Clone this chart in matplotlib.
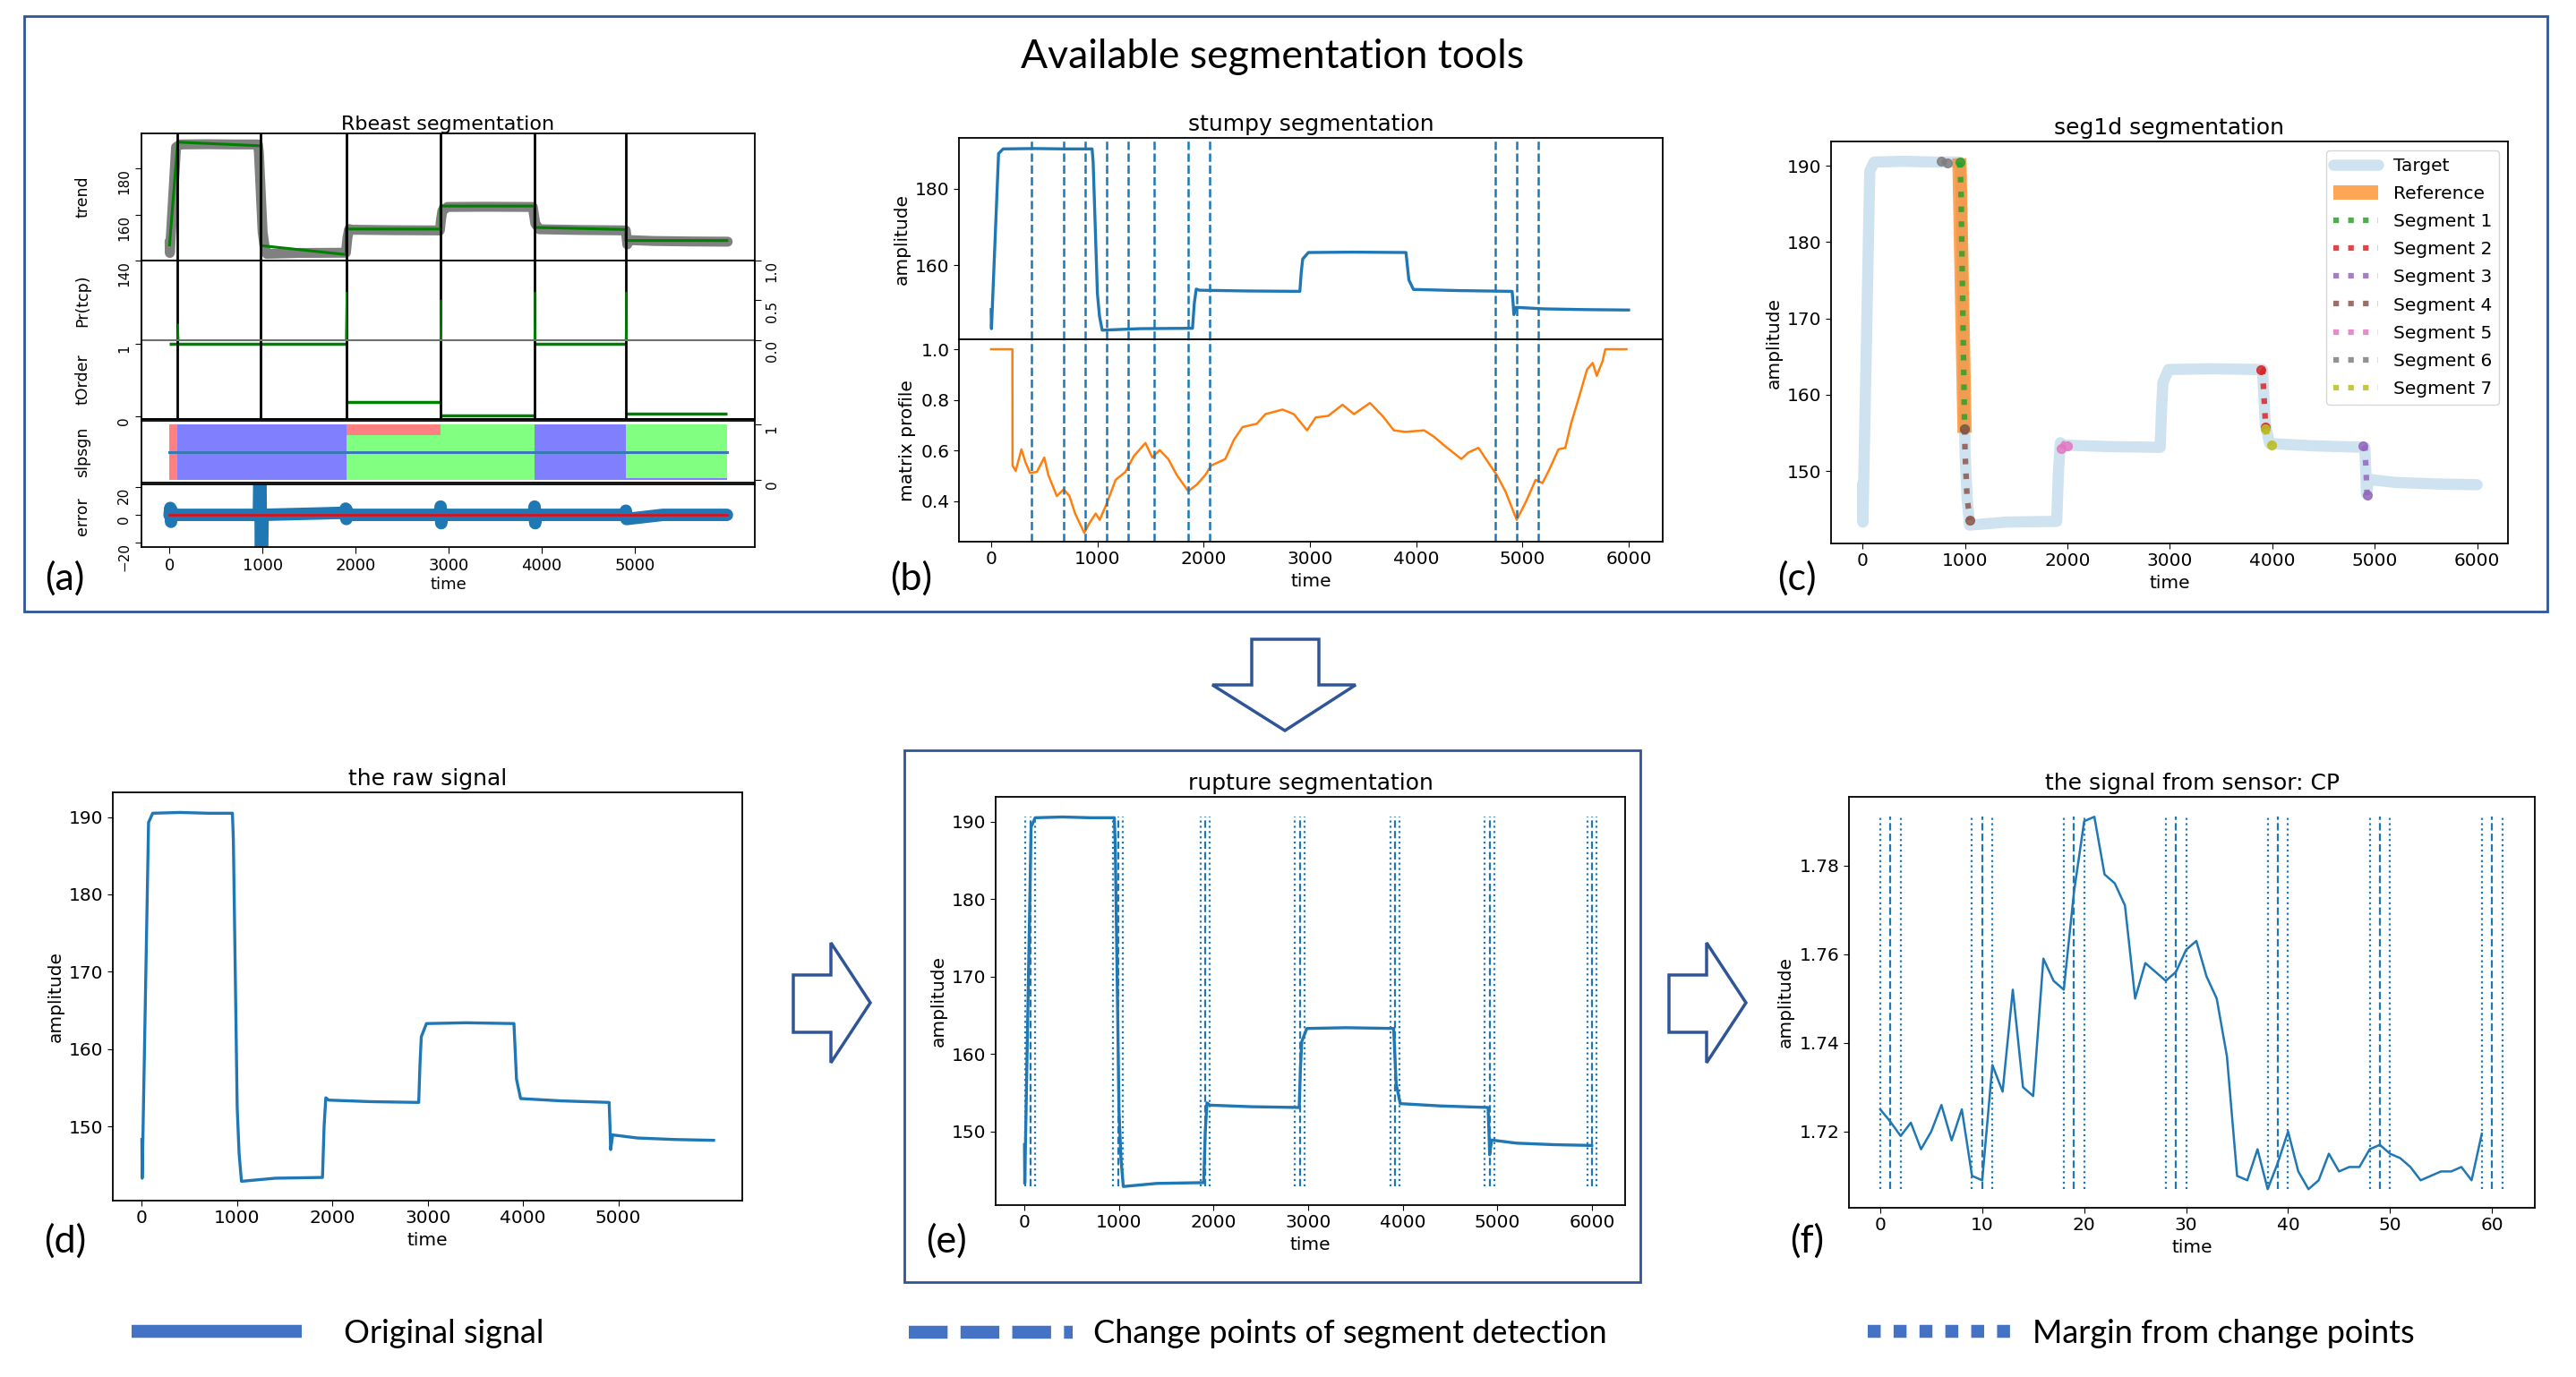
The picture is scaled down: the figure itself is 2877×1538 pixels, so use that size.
import numpy as np
import matplotlib
matplotlib.use("Agg")
import matplotlib.pyplot as plt
from matplotlib.patches import Polygon, Rectangle

# ------------------------------------------------------------------ data
# raw signal (knots)
sig_t = [0, 3, 70, 113, 400, 700, 950, 960, 1000, 1020, 1045, 1400, 1895, 1912, 1930, 1960,
         2400, 2905, 2918, 2932, 2986, 3400, 3904, 3931, 3974, 4400, 4903, 4912, 4919, 4940,
         5200, 5600, 5999]
sig_v = [148.3, 143.3, 189.3, 190.5, 190.6, 190.5, 190.5, 187.0, 152.5, 146.5, 142.9, 143.3,
         143.4, 150.0, 153.7, 153.4, 153.2, 153.1, 158.0, 161.6, 163.3, 163.4, 163.3, 156.1,
         153.6, 153.3, 153.1, 150.0, 147.0, 148.9, 148.5, 148.3, 148.2]

# (a) Rbeast
cp_a = [87, 982, 1897, 2913, 3923, 4904]
trend_t = [0, 87, 982, 982, 1897, 1897, 2913, 2913, 3923, 3923, 4904, 4904, 5990]
trend_v = [146.8, 191.5, 189.9, 146.5, 142.6, 153.7, 153.7, 163.7, 163.7, 154.4, 153.5, 148.7, 148.7]
pr_t = [0, 84, 91, 98, 1894, 1901, 1908, 2910, 2917, 2924, 3920, 3927, 3934, 4901, 4908, 4915, 5990]
pr_v = [0, 0, 0.2, 0, 0, 0.6, 0, 0, 0.5, 0, 0, 0.6, 0, 0, 0.6, 0, 0]
tord_start = [0, 1897, 2913, 3923, 4904]
tord_end = [1897, 2913, 3923, 4904, 5990]
tord_val = [1.0, 0.2, 0.01, 1.0, 0.04]
sl_edges = [0, 87, 1897, 2913, 3923, 4904, 5990]
sl_neg = [0, 1, 0, 0, 1, 0.03]
sl_zero = [0, 0, 0.8, 1, 0, 0.97]
sl_pos = [1, 0, 0.2, 0, 0, 0]
sl_line_t = [0, 5990]
sl_line_v = [0.5, 0.5]
err_t = [0, 8, 16, 24, 40, 960, 974, 984, 1000, 1300, 1600, 1880, 1893, 1900, 1907,
         1915, 2905, 2913, 2920, 2928, 3915, 3923, 3930, 3938, 4897, 4904, 4911, 5300, 5990]
err_v = [0, 5, -5, 3, 0, 0, 80, -80, 0, 0.5, 1.0, 1.5, 4.5, -3, 3,
         0, 0, 6, -6, 0, 0, 6, -6, 0, 0, 3, -3, 0, 0]
err_zero_t = [0, 5990]
err_zero_v = [0, 0]

# (b) stumpy
cp_b = [382, 683, 887, 1086, 1290, 1532, 1855, 2059, 4747, 4946, 5151]
mp_t = [0, 200, 201, 231, 285, 323, 366, 430, 500, 538, 618, 683, 737, 790, 876, 925, 984, 1022,
        1086, 1172, 1263, 1344, 1452, 1516, 1586, 1667, 1747, 1855, 1935, 2016, 2070, 2204, 2285,
        2366, 2500, 2581, 2742, 2849, 2973, 3054, 3172, 3306, 3414, 3565, 3683, 3790, 3898, 4075,
        4167, 4274, 4425, 4489, 4586, 4677, 4758, 4839, 4946, 5038, 5124, 5188, 5242, 5339, 5403,
        5457, 5538, 5608, 5661, 5699, 5753, 5780, 5979]
mp_v = [1.0, 1.0, 0.541, 0.52, 0.605, 0.554, 0.512, 0.516, 0.573, 0.504, 0.421, 0.447, 0.421,
        0.352, 0.276, 0.314, 0.352, 0.327, 0.390, 0.485, 0.516, 0.579, 0.630, 0.573, 0.602, 0.567,
        0.504, 0.440, 0.466, 0.504, 0.541, 0.567, 0.643, 0.693, 0.706, 0.744, 0.762, 0.744, 0.680,
        0.731, 0.737, 0.781, 0.744, 0.788, 0.737, 0.680, 0.674, 0.680, 0.655, 0.617, 0.567, 0.592,
        0.611, 0.554, 0.504, 0.440, 0.327, 0.403, 0.485, 0.472, 0.516, 0.605, 0.611, 0.706, 0.819,
        0.920, 0.946, 0.895, 0.952, 1.0, 1.0]

# (c) seg1d
ref_t = [945, 996]
ref_v = [191.0, 155.0]
seg_names = ["Segment 1", "Segment 2", "Segment 3", "Segment 4", "Segment 5", "Segment 6", "Segment 7"]
seg_colors = ["tab:green", "tab:red", "tab:purple", "tab:brown", "tab:pink", "tab:gray", "tab:olive"]
seg1_t, seg1_v = [950, 960, 996], [190.5, 187.0, 155.5]
seg2_t, seg2_v = [3890, 3904, 3935], [163.3, 163.2, 155.8]
seg3_t, seg3_v = [4887, 4905, 4925], [153.3, 153.0, 146.8]
seg4_t, seg4_v = [996, 1000, 1020, 1048], [155.5, 152.5, 146.5, 143.6]
seg5_t, seg5_v = [1940, 1965, 2000], [153.0, 153.6, 153.3]
seg6_t, seg6_v = [770, 830], [190.6, 190.4]
seg7_t, seg7_v = [3935, 3960, 3990], [155.5, 154.0, 153.4]

# (e) ruptures
cp_e = [60, 990, 1910, 2910, 3920, 4920, 6000]
margin_e = 50

# (f) sensor CP
cp_time = list(range(60))
cp_vals = [1.725, 1.7222, 1.719, 1.722, 1.716, 1.720, 1.726, 1.718, 1.725, 1.710,
           1.709, 1.735, 1.729, 1.752, 1.730, 1.728, 1.759, 1.754, 1.752, 1.774,
           1.790, 1.791, 1.778, 1.776, 1.771, 1.750, 1.758, 1.756, 1.754, 1.756,
           1.761, 1.763, 1.755, 1.750, 1.737, 1.710, 1.709, 1.716, 1.707, 1.713,
           1.720, 1.711, 1.707, 1.709, 1.715, 1.711, 1.712, 1.712, 1.716, 1.717,
           1.715, 1.714, 1.712, 1.709, 1.710, 1.711, 1.711, 1.712, 1.709, 1.7195]
cp_f = [1, 10, 19, 29, 39, 49, 60]
margin_f = 1

# texts
main_title = "Available segmentation tools"
legend_texts = ["Original signal", "Change points of segment detection", "Margin from change points"]

# ------------------------------------------------------------------ style
plt.rcParams["axes.linewidth"] = 1.3
plt.rcParams["font.family"] = ["DejaVu Sans"]
W, H = 2877, 1538
fig = plt.figure(figsize=(W / 100, H / 100), dpi=100)
FRAME = "#2F5597"
LEG = "#4472C4"
ANN = ["Lato", "DejaVu Sans"]
TS, LS, TT = 14.5, 14.5, 18
SIG_LW = 2.4


def add_ax(l, t, r, b, **kw):
    return fig.add_axes([l / W, 1 - b / H, (r - l) / W, (b - t) / H], **kw)


def rot_labels(ax, side):
    for tk in ax.yaxis.get_major_ticks():
        lab = tk.label1 if side == "left" else tk.label2
        lab.set_rotation(90)
        lab.set_rotation_mode("anchor")
        lab.set_ha("right")
        lab.set_va("bottom" if side == "left" else "top")


# ------------------------------------------------------------------ (a) Rbeast
xl_a = (-302, 6290)
ax_tr = add_ax(158, 149, 843, 291)
ax_tr.plot(sig_t, sig_v, color="#808080", lw=8, solid_capstyle="round", solid_joinstyle="round", zorder=1)
ax_tr.plot(trend_t, trend_v, color="green", lw=2.2, zorder=2)
for c in cp_a:
    ax_tr.axvline(c, color="black", lw=2, zorder=3)
ax_tr.set_xlim(*xl_a)
ax_tr.set_ylim(140, 195.3)
ax_tr.set_xticks([])
ax_tr.set_yticks([140, 160, 180])
ax_tr.tick_params(axis="y", labelsize=11, length=5)
rot_labels(ax_tr, "left")
ax_tr.set_title("Rbeast segmentation", fontsize=16, pad=3)

ax_to = add_ax(158, 291, 843, 468)
ax_to.hlines(tord_val, tord_start, tord_end, color="green", lw=2.5)
for c in cp_a:
    ax_to.axvline(c, color="black", lw=2)
ax_to.set_xlim(*xl_a)
ax_to.set_ylim(-0.037, 2.148)
ax_to.set_yticks([0, 1])
ax_to.set_xticks([])
ax_to.tick_params(axis="y", labelsize=11, length=5)
rot_labels(ax_to, "left")
ax_pr = ax_to.twinx()
ax_pr.plot(pr_t, pr_v, color="green", lw=1.2)
ax_pr.axhline(0, color="#707070", lw=1.5)
ax_pr.set_ylim(-0.989, 1.0)
ax_pr.set_yticks([0, 0.5, 1.0])
ax_pr.set_yticklabels(["0.0", "0.5", "1.0"])
ax_pr.tick_params(axis="y", labelsize=11, length=5)
rot_labels(ax_pr, "right")

ax_sl = add_ax(158, 470, 843, 539)
neg_s = np.append(sl_neg, sl_neg[-1])
zero_s = np.append(sl_zero, sl_zero[-1])
pos_s = np.append(sl_pos, sl_pos[-1])
ax_sl.fill_between(sl_edges, 0, neg_s, step="post", color="#8080FF", lw=0)
ax_sl.fill_between(sl_edges, neg_s, neg_s + zero_s, step="post", color="#80FF80", lw=0)
ax_sl.fill_between(sl_edges, neg_s + zero_s, neg_s + zero_s + pos_s, step="post", color="#FF8080", lw=0)
ax_sl.plot(sl_line_t, sl_line_v, color="#3a78b5", lw=2.2)
ax_sl.set_xlim(*xl_a)
ax_sl.set_ylim(-0.048, 1.065)
ax_sl.set_xticks([])
ax_sl.yaxis.tick_right()
ax_sl.set_yticks([0, 1])
ax_sl.tick_params(axis="y", labelsize=11, length=5)
rot_labels(ax_sl, "right")

ax_er = add_ax(158, 541, 843, 611)
ax_er.plot(err_t, err_v, color="#1f77b4", lw=10, solid_capstyle="round", solid_joinstyle="round")
ax_er.plot(err_zero_t, err_zero_v, color="red", lw=1.8)
ax_er.set_xlim(*xl_a)
ax_er.set_ylim(-23.2, 22)
ax_er.set_yticks([-20, 0, 20])
ax_er.set_xticks(range(0, 6000, 1000))
ax_er.tick_params(axis="y", labelsize=11, length=5)
ax_er.tick_params(axis="x", labelsize=13, length=5)
rot_labels(ax_er, "left")
ax_er.set_xlabel("time", fontsize=13, labelpad=2)

# ------------------------------------------------------------------ (b) stumpy
axb1 = add_ax(1071, 154, 1857, 379)
axb2 = add_ax(1071, 379, 1857, 605, sharex=axb1)
axb1.plot(sig_t, sig_v, color="tab:blue", lw=SIG_LW)
axb2.plot(mp_t, mp_v, color="tab:orange", lw=1.8)
for c in cp_b:
    axb1.axvline(c, color="tab:blue", ls="--", lw=1.8)
    axb2.axvline(c, color="tab:blue", ls="--", lw=1.8)
axb1.set_xlim(-303, 6320)
axb1.set_ylim(140.5, 193.4)
axb2.set_ylim(0.241, 1.039)
axb1.set_yticks([160, 180])
axb2.set_yticks([0.4, 0.6, 0.8, 1.0])
axb2.set_xticks(range(0, 7000, 1000))
axb1.tick_params(axis="x", bottom=False, labelbottom=False)
for a in (axb1, axb2):
    a.tick_params(labelsize=TS, length=4)
axb1.set_ylabel("amplitude", fontsize=LS)
axb2.set_ylabel("matrix profile", fontsize=LS)
axb2.set_xlabel("time", fontsize=LS)
axb1.set_title("stumpy segmentation", fontsize=TT)

# ------------------------------------------------------------------ (c) seg1d
axc = add_ax(2045, 158, 2801, 607)
axc.plot(sig_t, sig_v, color="#cfe2f0", lw=9, solid_capstyle="round", solid_joinstyle="round", label="Target")
axc.plot(ref_t, ref_v, color="tab:orange", alpha=0.7, lw=11.5, solid_capstyle="butt", label="Reference")
seg_t = [seg1_t, seg2_t, seg3_t, seg4_t, seg5_t, seg6_t, seg7_t]
seg_v = [seg1_v, seg2_v, seg3_v, seg4_v, seg5_v, seg6_v, seg7_v]
for st, sv, nm, col in zip(seg_t, seg_v, seg_names, seg_colors):
    axc.plot(st, sv, ls=":", lw=4.5, color=col, alpha=0.85, label=nm)
    axc.plot([st[0], st[-1]], [sv[0], sv[-1]], ls="none", marker="o", ms=7, color=col, alpha=0.85)
axc.set_xlim(-308, 6300)
axc.set_ylim(140.5, 193.2)
axc.set_xticks(range(0, 7000, 1000))
axc.set_yticks([150, 160, 170, 180, 190])
axc.tick_params(labelsize=TS, length=4)
axc.set_ylabel("amplitude", fontsize=LS)
axc.set_xlabel("time", fontsize=LS)
axc.set_title("seg1d segmentation", fontsize=TT)
axc.legend(loc="upper right", fontsize=14.5, labelspacing=0.6, handlelength=2.5)

# ------------------------------------------------------------------ (d) raw
axd = add_ax(126, 885, 829, 1341)
axd.plot(sig_t, sig_v, color="tab:blue", lw=SIG_LW)
axd.set_xlim(-305, 6300)
axd.set_ylim(140.4, 193.2)
axd.set_xticks(range(0, 6000, 1000))
axd.set_yticks([150, 160, 170, 180, 190])
axd.tick_params(labelsize=TS, length=4)
axd.set_ylabel("amplitude", fontsize=LS)
axd.set_xlabel("time", fontsize=LS)
axd.set_title("the raw signal", fontsize=TT)

# ------------------------------------------------------------------ (e) ruptures
axe = add_ax(1112, 890, 1815, 1346)
axe.plot(sig_t, sig_v, color="tab:blue", lw=SIG_LW)
y0, y1 = min(sig_v), max(sig_v)
axe.vlines(cp_e, y0, y1, colors="tab:blue", linestyles="--", lw=1.6)
axe.vlines([c - margin_e for c in cp_e] + [c + margin_e for c in cp_e], y0, y1,
           colors="tab:blue", linestyles=":", lw=1.6)
axe.set_xlim(-305, 6352)
axe.set_ylim(140.5, 193.2)
axe.set_xticks(range(0, 7000, 1000))
axe.set_yticks([150, 160, 170, 180, 190])
axe.tick_params(labelsize=TS, length=4)
axe.set_ylabel("amplitude", fontsize=LS)
axe.set_xlabel("time", fontsize=LS)
axe.set_title("rupture segmentation", fontsize=TT)

# ------------------------------------------------------------------ (f) CP sensor
axf = add_ax(2065, 890, 2831, 1349)
axf.plot(cp_time, cp_vals, color="tab:blue", lw=1.8)
f0, f1 = min(cp_vals), max(cp_vals)
axf.vlines(cp_f, f0, f1, colors="tab:blue", linestyles="--", lw=1.6)
axf.vlines([c - margin_f for c in cp_f] + [c + margin_f for c in cp_f], f0, f1,
           colors="tab:blue", linestyles=":", lw=1.6)
axf.set_xlim(-3.07, 64.2)
axf.set_ylim(1.7028, 1.7955)
axf.set_xticks(range(0, 70, 10))
axf.set_yticks([1.72, 1.74, 1.76, 1.78])
axf.tick_params(labelsize=TS, length=4)
axf.set_ylabel("amplitude", fontsize=LS)
axf.set_xlabel("time", fontsize=LS)
axf.set_title("the signal from sensor: CP", fontsize=TT)

# ------------------------------------------------------------------ overlay (pixel coordinates)
ov = fig.add_axes([0, 0, 1, 1], zorder=10)
ov.set_xlim(0, W)
ov.set_ylim(H, 0)
ov.axis("off")
ov.patch.set_alpha(0)

ov.add_patch(Rectangle((27, 18), 2818, 665, fill=False, edgecolor=FRAME, lw=2.0))
ov.add_patch(Rectangle((1010, 838), 822, 594, fill=False, edgecolor=FRAME, lw=2.0))
arrow_down = [(1398, 714), (1473, 714), (1473, 765), (1514, 765), (1435, 816), (1354, 765), (1398, 765)]
arrow_r1 = [(886, 1089), (928, 1089), (928, 1053), (972, 1120), (928, 1187), (928, 1153), (886, 1153)]
arrow_r2 = [(1864, 1089), (1906, 1089), (1906, 1053), (1950, 1120), (1906, 1187), (1906, 1153), (1864, 1153)]
for pts in (arrow_down, arrow_r1, arrow_r2):
    ov.add_patch(Polygon(pts, closed=True, facecolor="white", edgecolor=FRAME, lw=2.5, joinstyle="miter"))

ov.text(1421, 76, main_title, fontsize=32, family=ANN, ha="center", va="baseline")

for lab, x, y in [("(a)", 50, 659), ("(b)", 994, 659), ("(c)", 1985, 659),
                  ("(d)", 49, 1399), ("(e)", 1034, 1399), ("(f)", 1999, 1399)]:
    ov.text(x, y, lab, fontsize=31, family=ANN, ha="left", va="baseline")

for lab, y in [("trend", 220), ("Pr(tcp)", 336), ("tOrder", 424), ("slpsgn", 505), ("error", 577)]:
    ov.text(92, y, lab, fontsize=12.5, rotation=90, ha="center", va="center")

ov.plot([147, 337], [1487, 1487], color=LEG, lw=10.4, solid_capstyle="butt")
ov.plot([1015, 1198], [1488, 1488], color=LEG, lw=10.4, dashes=(3.0, 1.0), dash_capstyle="butt")
ov.plot([2086, 2247], [1487, 1487], color=LEG, lw=10.4, dashes=(1.0, 1.0), dash_capstyle="butt")
ov.text(384, 1500, legend_texts[0], fontsize=26, family=ANN, ha="left", va="baseline")
ov.text(1221, 1500, legend_texts[1], fontsize=26, family=ANN, ha="left", va="baseline")
ov.text(2270, 1500, legend_texts[2], fontsize=26, family=ANN, ha="left", va="baseline")

fig.savefig("out.png", dpi=100)
